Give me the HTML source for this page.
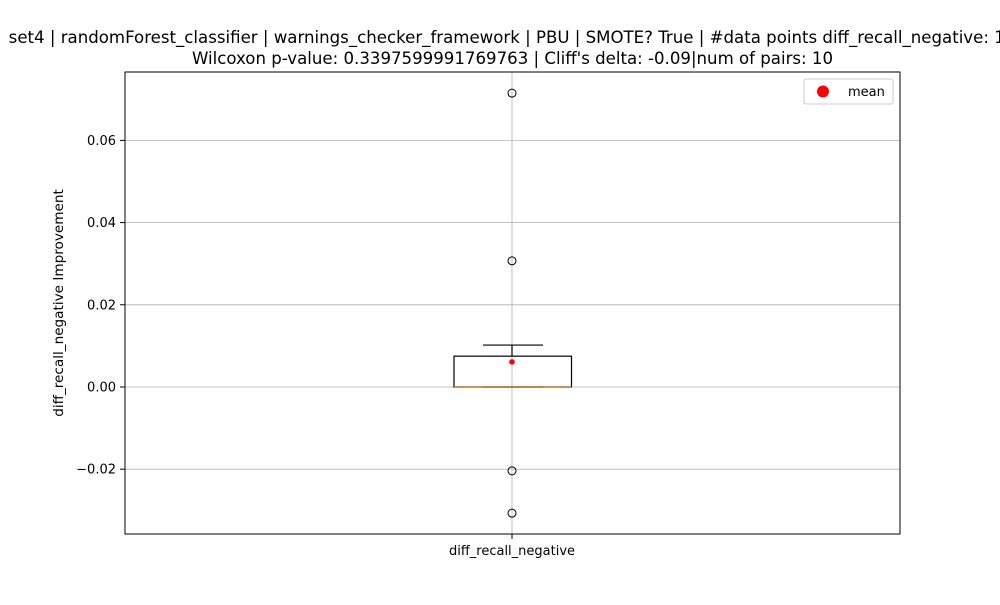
<!DOCTYPE html>
<html><head><meta charset="utf-8"><style>
body{margin:0;background:#fff;font-family:"Liberation Sans","DejaVu Sans",sans-serif}
</style></head><body>
<svg id="chart" width="1000" height="600" xmlns="http://www.w3.org/2000/svg" font-family="DejaVu Sans, Liberation Sans, sans-serif">
<rect width="1000" height="600" fill="#fff"/>
<text x="512" y="43" font-size="16.6" text-anchor="middle">set4 | randomForest_classifier | warnings_checker_framework | PBU | SMOTE? True | #data points diff_recall_negative: 10</text>
<text x="512.5" y="64" font-size="16.6" text-anchor="middle">Wilcoxon p-value: 0.3397599991769763 | Cliff's delta: -0.09|num of pairs: 10</text>
<g id="grid"></g>
<g id="marks"></g>
<rect x="125" y="72" width="775" height="462" fill="none" stroke="#000" stroke-width="1"/>
<g id="ticks"></g>
<text transform="translate(63,303) rotate(-90)" font-size="13.6" text-anchor="middle">diff_recall_negative Improvement</text>
<text x="512" y="555" font-size="13" text-anchor="middle">diff_recall_negative</text>
<line x1="512" y1="534" x2="512" y2="539" stroke="#000"/>
<g>
<rect x="804" y="79" width="89" height="25" rx="2" fill="#fff" stroke="#ccc"/>
<circle cx="823" cy="91.5" r="6" fill="red"/>
<text x="848" y="96" font-size="13">mean</text>
</g>
</svg>
<script>
const yTicks=[-0.02,0.00,0.02,0.04,0.06];
const yTickLabels=["\u22120.02","0.00","0.02","0.04","0.06"];
const boxStats=[0,0,0.0075,0.0102,0];
const meanValue=[0.0061];
const outliers=[0.0715,0.0307,-0.0204,-0.0307];
const ns="http://www.w3.org/2000/svg";
const y=v=>387-v*4110;
const cx=512;
function mk(tag,attrs,parent){const e=document.createElementNS(ns,tag);for(const k in attrs)e.setAttribute(k,attrs[k]);document.getElementById(parent).appendChild(e);return e;}
mk('line',{x1:cx,y1:72,x2:cx,y2:534,stroke:'#b0b0b0','stroke-width':0.8},'grid');
yTicks.forEach((t,i)=>{
 const g=mk('line',{x1:125,y1:y(t),x2:900,y2:y(t),stroke:'#b0b0b0','stroke-width':0.8},'grid');
 
 
 mk('line',{x1:120,y1:y(t),x2:125,y2:y(t),stroke:'#000'},'ticks');
 const tx=mk('text',{x:116,y:y(t)+4.5,'font-size':13,'text-anchor':'end'},'ticks');
 tx.textContent=yTickLabels[i];
 
 
});
const [lw,q1,q3,hw,med]=boxStats;
let e=mk('rect',{x:454,y:y(q3),width:117.5,height:y(q1)-y(q3),fill:'none',stroke:'#000','stroke-width':1.2},'marks');


e=mk('line',{x1:cx,y1:y(q3),x2:cx,y2:y(hw),stroke:'#000','stroke-width':1.2},'marks');


e=mk('line',{x1:483,y1:y(hw),x2:543,y2:y(hw),stroke:'#000','stroke-width':1.2},'marks');


e=mk('line',{x1:483,y1:y(lw),x2:543,y2:y(lw),stroke:'#000','stroke-width':1.2},'marks');


e=mk('line',{x1:454,y1:y(med),x2:571.5,y2:y(med),stroke:'#e8903a','stroke-width':1.4,'stroke-opacity':0.8},'marks');


outliers.forEach(v=>{
 const c=mk('circle',{cx:cx,cy:y(v),r:4,fill:'none',stroke:'#000','stroke-width':1},'marks');
 
 
});
e=mk('circle',{cx:cx,cy:y(meanValue[0]),r:2.8,fill:'red'},'marks');


</script>
</body></html>
